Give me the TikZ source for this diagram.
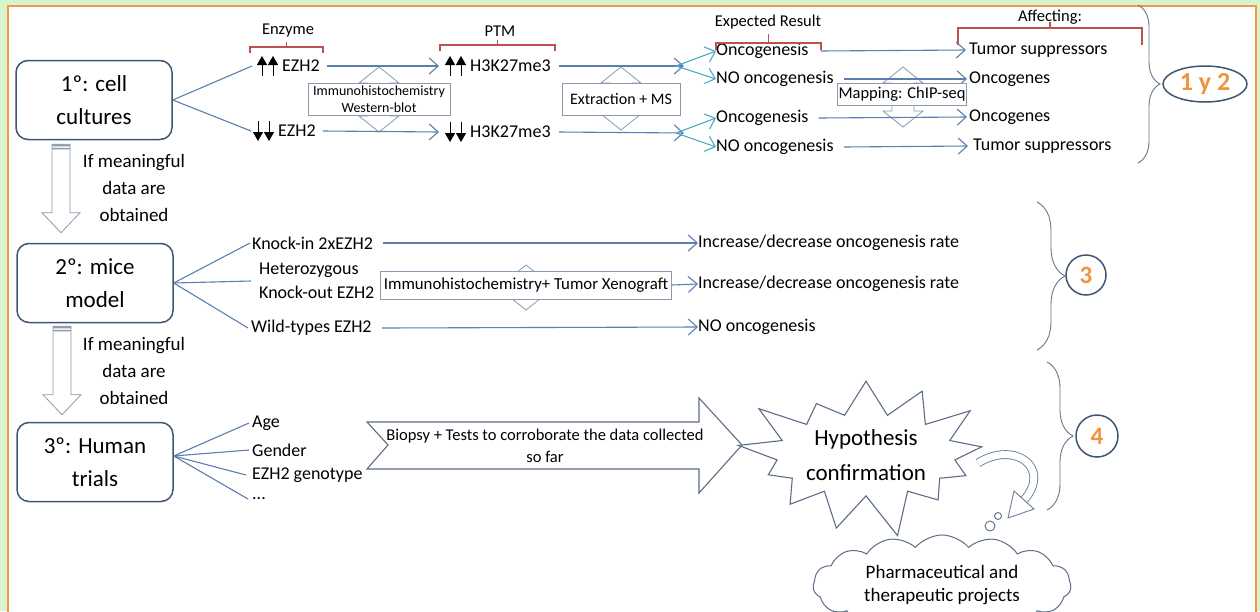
\documentclass[tikz,border=0pt]{standalone}
\usepackage{fontspec}
\setmainfont{Carlito}
\usetikzlibrary{arrows.meta,positioning,shapes.geometric,shapes.symbols,decorations.pathreplacing,calc}

\definecolor{pagegreen}{HTML}{D6F5CE}
\definecolor{frameorange}{HTML}{F79646}
\definecolor{boxline}{HTML}{3F5571}
\definecolor{linkblue}{HTML}{5A7FB0}
\definecolor{linkcyan}{HTML}{4BACC6}
\definecolor{brackred}{HTML}{C0504D}
\definecolor{hollowgray}{HTML}{8A9AAE}
\definecolor{numorange}{HTML}{F0953E}

% hollow up-down arrow drawn behind a method box
\newcommand{\updown}[3]{%
  \draw[hollow] (#1,#2) -- (#1+20,#2+16) -- (#1+11,#2+16) -- (#1+11,#3-16)
    -- (#1+20,#3-16) -- (#1,#3) -- (#1-20,#3-16) -- (#1-11,#3-16)
    -- (#1-11,#2+16) -- (#1-20,#2+16) -- cycle;}
% hollow down arrow between two stages
\newcommand{\hollowdown}[2]{%
  \draw[hollow] let \p1=(#1), \p2=(#2) in
    (\x1-9pt,\y1) -- (\x1+9pt,\y1) -- (\x1+9pt,\y2+20pt) -- (\x1+19pt,\y2+20pt)
    -- (\x1,\y2) -- (\x1-19pt,\y2+20pt) -- (\x1-9pt,\y2+20pt) -- cycle;
  \fill[boxline!60] let \p1=(#1) in (\x1-9pt,\y1) rectangle (\x1+9pt,\y1-2pt)
    (\x1-9pt,\y1-3.5pt) rectangle (\x1+9pt,\y1-5pt);}
% red bracket under a column title
\newcommand{\redbracket}[5]{%
  \draw[brk] (#1,#3+#4) -- (#1,#3) -- (#2,#3) -- (#2,#3+#4);
  \draw[brk] ({(#1+#2)/2},#3) -- ({(#1+#2)/2},#3-#5);}
\newcommand{\upstems}[1]{\foreach \dx in {-20,-9}
  \draw[stem] ([xshift=\dx pt,yshift=-10pt]#1.west) -- ([xshift=\dx pt,yshift=10pt]#1.west);}
\newcommand{\downstems}[1]{\foreach \dx in {-20,-9}
  \draw[stem] ([xshift=\dx pt,yshift=10pt]#1.west) -- ([xshift=\dx pt,yshift=-10pt]#1.west);}

\begin{document}
\begin{tikzpicture}[x=1pt,y=-1pt,
  stage/.style={draw=boxline,line width=1.5pt,rounded corners=12pt,minimum width=156pt,
    minimum height=79pt,align=center,font=\fontsize{23}{33}\selectfont},
  lbl/.style={anchor=west,inner sep=0pt,font=\fontsize{18}{22}\selectfont},
  hdr/.style={inner sep=0pt,font=\fontsize{16.5}{20}\selectfont},
  method/.style={draw=hollowgray,fill=white,line width=0.8pt,align=center,inner sep=1pt},
  link/.style={draw=linkblue,line width=1.1pt},
  arr/.style={link,-{Straight Barb[length=9pt,width=16pt]}},
  carr/.style={arr,draw=linkcyan},
  hollow/.style={draw=hollowgray,fill=white,line width=0.8pt},
  brk/.style={draw=brackred,line width=1.1pt},
  stem/.style={-{Triangle[length=9pt,width=10pt]},line width=0.8pt,black},
  curly/.style={draw=boxline!80,line width=0.9pt,decorate,decoration={brace,amplitude=#1}},
  num/.style={draw=boxline,line width=1.5pt,text=numorange,inner sep=0pt,
    font=\bfseries\fontsize{25}{28}\selectfont}]
  \useasboundingbox (0,0) rectangle (1260,611);
  \fill[pagegreen] (0,0) rectangle (1260,611);
  \draw[frameorange,line width=2.5pt,fill=white] (8,6) rectangle (1256,650);

  % stages
  \node[stage] (cells) at (94,100) {1º: cell\\cultures};
  \node[stage] (mice) at (95,283) {2º: mice\\model};
  \node[stage] (humans) at (95,462) {3º: Human\\trials};
  \hollowdown{$(cells.south)+(-33,4)$}{$(mice.north)+(-33,-10)$}
  \hollowdown{$(mice.south)+(-33,3)$}{$(humans.north)+(-33,-7)$}
  \node[align=center,font=\fontsize{19}{27}\selectfont] (ifA) at (134,188) {If meaningful\\data are\\obtained};
  \node[align=center,font=\fontsize{19}{27}\selectfont] (ifB) at (134,371) {If meaningful\\data are\\obtained};

  % cell cultures
  \node[hdr] (enzyme) at (288,31) {Enzyme};
  \node[lbl] (ezhup) at (282,66) {EZH2};
  \node[lbl] (ezhdown) at (278,131) {EZH2};
  \node[hdr] (ptm) at (500,31) {PTM};
  \node[lbl] (h3up) at (470,66) {H3K27me3};
  \node[lbl] (h3down) at (470,132) {H3K27me3};
  \node[hdr] (expected) at (768,22) {Expected Result};
  \node[lbl] (oncoA) at (716,51) {Oncogenesis};
  \node[lbl] (nooncoA) at (716,79) {NO oncogenesis};
  \node[lbl] (oncoB) at (716,118) {Oncogenesis};
  \node[lbl] (nooncoB) at (716,147) {NO oncogenesis};
  \node[hdr] (affecting) at (1050,17) {Affecting:};
  \node[lbl] (tsA) at (969,50) {Tumor suppressors};
  \node[lbl] (ogA) at (969,79) {Oncogenes};
  \node[lbl] (ogB) at (969,117) {Oncogenes};
  \node[lbl] (tsB) at (973,146) {Tumor suppressors};
  \upstems{ezhup} \downstems{ezhdown}
  \upstems{h3up} \downstems{h3down}
  \redbracket{250}{323}{47}{6}{5}
  \redbracket{440}{555}{45}{6}{5}
  \redbracket{716}{821}{43}{7}{9}
  \redbracket{958}{1142}{28}{17}{6}
  \updown{379}{67}{132}
  \updown{621}{67}{130}
  \updown{903}{67}{127}
  \draw[link] (cells.east) -- ([xshift=-30pt]ezhup.west);
  \draw[link] (cells.east) -- ([xshift=-27pt]ezhdown.west);
  \draw[arr] ([xshift=7pt]ezhup.east) -- ([xshift=-31pt]h3up.west);
  \draw[arr] ([xshift=7pt]ezhdown.east) -- ([xshift=-31pt]h3down.west);
  \coordinate (forkA) at (684,66);
  \coordinate (forkB) at (684,133);
  \draw[arr] ([xshift=8pt]h3up.east) -- (forkA);
  \draw[arr] ([xshift=8pt]h3down.east) -- (forkB);
  \draw[carr] ([xshift=-8pt]forkA) -- (oncoA.west);
  \draw[carr] ([xshift=-8pt]forkA) -- (nooncoA.west);
  \draw[carr] ([xshift=-8pt]forkB) -- (oncoB.west);
  \draw[carr] ([xshift=-8pt]forkB) -- (nooncoB.west);
  \draw[arr] ([xshift=12pt]oncoA.east) -- ([xshift=-3pt]tsA.west);
  \draw[arr] ([xshift=10pt]nooncoA.east) -- ([xshift=-2pt]ogA.west);
  \draw[arr] ([xshift=10pt]oncoB.east) -- ([xshift=-2pt]ogB.west);
  \draw[arr] ([xshift=10pt]nooncoB.east) -- ([xshift=-5pt]tsB.west);
  \node[method,font=\fontsize{14}{17}\selectfont,minimum width=142pt,minimum height=32pt] (immuno) at (379,99) {Immunohistochemistry\\Western-blot};
  \node[method,font=\fontsize{16}{19}\selectfont,minimum width=118pt,minimum height=32pt] (extract) at (621,99) {Extraction + MS};
  \node[method,font=\fontsize{16.5}{19}\selectfont,minimum width=129pt,minimum height=22pt] (chip) at (902,94) {Mapping: ChIP-seq};

  % mice model
  \node[lbl] (knockin) at (252,243) {Knock-in 2xEZH2};
  \node[lbl,align=left,font=\fontsize{18}{24}\selectfont] (hetero) at (259,281) {Heterozygous\\Knock-out EZH2};
  \node[lbl] (wild) at (251,328) {Wild-types EZH2};
  \node[lbl] (rateA) at (698,243) {Increase/decrease oncogenesis rate};
  \node[lbl] (rateB) at (698,284) {Increase/decrease oncogenesis rate};
  \node[lbl] (noonc) at (698,327) {NO oncogenesis};
  \updown{526}{265}{310}
  \node[method,font=\fontsize{16.8}{19}\selectfont,minimum width=291pt,minimum height=28pt] (xeno) at (526,285) {Immunohistochemistry+ Tumor Xenograft};
  \draw[link] (mice.east) -- ([xshift=-2pt]knockin.west);
  \draw[link] (mice.east) -- ([xshift=-8pt]hetero.west);
  \draw[link] (mice.east) -- ([xshift=-3pt]wild.west);
  \draw[arr] ([xshift=10pt]knockin.east) -- (rateA.west);
  \draw[arr] (xeno.east) -- (rateB.west);
  \draw[arr] ([xshift=10pt]wild.east) -- (noonc.west);

  % human trials
  \node[lbl] (age) at (252,423) {Age};
  \node[lbl] (gender) at (252,450) {Gender};
  \node[lbl] (geno) at (252,475) {EZH2 genotype};
  \node[lbl] (more) at (252,499) {...};
  \draw[link] ([yshift=6pt]humans.east) -- ([xshift=-3pt]age.west);
  \draw[link] ([yshift=6pt]humans.east) -- ([xshift=-3pt]gender.west);
  \draw[link] ([yshift=6pt]humans.east) -- ([xshift=-6pt]geno.west);
  \draw[link] ([yshift=6pt]humans.east) -- ([xshift=-4pt]more.west);
  \draw[hollow,draw=boxline!85,line width=1.1pt] (367,422) -- (699,422) -- (699,398) -- (742,445)
    -- (699,493) -- (699,469) -- (367,469) -- (388,445) -- cycle;
  \node[align=center,font=\fontsize{16.5}{22}\selectfont] (biopsy) at (545,446) {Biopsy + Tests to corroborate the data collected\\so far};
  \node[starburst,draw=boxline!85,fill=white,line width=1.1pt,starburst points=13,
    starburst point height=46pt,random starburst=21,minimum width=248pt,minimum height=138pt,
    align=center,font=\fontsize{23}{35}\selectfont] (hypo) at (866,455) {Hypothesis\\confirmation};
  \node[cloud,draw=boxline!85,fill=white,line width=1pt,cloud puffs=15,cloud puff arc=100,
    aspect=3.2,minimum width=258pt,minimum height=100pt,align=center,inner sep=0pt,
    font=\fontsize{19}{23}\selectfont] (pharma) at (942,585) {Pharmaceutical and\\therapeutic projects};
  \draw[draw=boxline!85,fill=white,line width=0.9pt] (990,526) circle (5pt) (998,516) circle (3.5pt);
  \coordinate (curlstart) at (978,463);
  \draw[draw=boxline!75,double=white,double distance=7pt,line width=0.9pt] (curlstart)
    .. controls (1015,440) and (1052,468) .. (1024,500);
  \draw[hollow,draw=boxline!75,line width=0.9pt] (1014,491) -- (1034,509) -- (1008,518) -- cycle;

  % steps
  \draw[curly=22pt] (1138,5) -- (1138,163);
  \draw[curly=28pt] (1037,202) -- (1037,350);
  \draw[curly=26pt] (1047,362) -- (1047,510);
  \node[num,ellipse,minimum width=84pt,minimum height=36pt,font=\bfseries\fontsize{26}{28}\selectfont] (stepA) at (1205,84) {1 y 2};
  \node[num,circle,minimum size=40pt] (stepB) at (1086,275) {3};
  \node[num,circle,minimum size=42pt] (stepC) at (1097,436) {4};
\end{tikzpicture}
\end{document}
